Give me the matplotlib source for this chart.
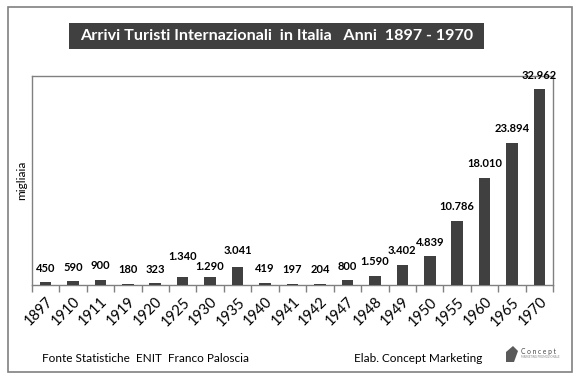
import matplotlib
matplotlib.use('Agg')
import matplotlib.pyplot as plt
from matplotlib.patches import Rectangle, Polygon

plt.rcParams['font.family'] = ['Lato', 'DejaVu Sans']

# dati (migliaia di arrivi)
anni = ['1897', '1910', '1911', '1919', '1920', '1925', '1930', '1935', '1940', '1941', '1942',
        '1947', '1948', '1949', '1950', '1955', '1960', '1965', '1970']
arrivi = [450, 590, 900, 180, 323, 1340, 1290, 3041, 419, 197, 204,
          800, 1590, 3402, 4839, 10786, 18010, 23894, 32962]
etichette = ['450', '590', '900', '180', '323', '1.340', '1.290', '3.041', '419', '197', '204',
             '800', '1.590', '3.402', '4.839', '10.786', '18.010', '23.894', '32.962']

# spostamento extra (pixel) di alcune etichette, come nell'originale
spost = {'1925': 7, '1930': -3, '1935': 2}

W, H = 583, 383
fig = plt.figure(figsize=(W / 100, H / 100), dpi=100)

def fx(px):
    return px / W

def fy(py):
    return 1 - py / H

# cornice esterna
fig.patches.append(Rectangle((fx(8), fy(372)), fx(572 - 8), (372 - 7) / H, transform=fig.transFigure,
                             fill=False, edgecolor='#808080', linewidth=1.2))

# titolo su fondo scuro
fig.patches.append(Rectangle((fx(69), fy(49)), fx(484 - 69), (49 - 23) / H, transform=fig.transFigure,
                             facecolor='#404040', edgecolor='none'))
fig.text(fx(276.5), fy(36.5), 'Arrivi Turisti Internazionali  in Italia   Anni  1897 - 1970',
         color='white', fontsize=11.6, fontweight='bold', ha='center', va='center')

ax = fig.add_axes([fx(31.7), fy(285), fx(553.3 - 31.7), (285 - 76) / H])
x = list(range(len(anni)))
ax.bar(x, arrivi, width=0.42, color='#404040', zorder=3)
ax.set_xlim(-0.5, len(anni) - 0.5)
ax.set_ylim(0, 35150)

for i, (v, lab) in enumerate(zip(arrivi, etichette)):
    ax.annotate(lab, (i, v), xytext=(0, 14 + spost.get(anni[i], 0)), textcoords='offset pixels',
                ha='center', va='center', fontsize=8, fontweight='bold', color='black')

for s in ax.spines.values():
    s.set_color('#808080')
    s.set_linewidth(1.0)

ax.set_yticks([])
ax.set_xticks(x)
ax.set_xticklabels(anni, rotation=45, ha='right', va='top', rotation_mode='anchor', fontsize=10.5)
ax.tick_params(axis='x', which='major', length=0, pad=7)
ax.set_xticks([i - 0.5 for i in range(len(anni) + 1)], minor=True)
ax.tick_params(axis='x', which='minor', length=5, color='#808080', width=1.0)

fig.text(fx(21.7), fy(180), 'migliaia', rotation=90, ha='center', va='center', fontsize=8.5)

# fonti
fig.text(fx(42), fy(358), 'Fonte Statistiche  ENIT  Franco Paloscia', ha='left', va='center', fontsize=8.5)
fig.text(fx(354), fy(358), 'Elab. Concept Marketing', ha='left', va='center', fontsize=8.5)

# piccolo logo
fig.patches.append(Polygon([(fx(506), fy(352)), (fx(513), fy(346)), (fx(518), fy(351)), (fx(514), fy(362)),
                            (fx(506), fy(362))], closed=True, transform=fig.transFigure,
                           facecolor='#5a5a5a', edgecolor='none'))
fig.text(fx(521), fy(351.5), 'C o n c e p t', ha='left', va='center', fontsize=4.8, color='#444444')
fig.text(fx(521), fy(357), 'MARKETING PROMOZIONALE', ha='left', va='center', fontsize=2, color='#888888')

fig.savefig('out.png', dpi=100, facecolor='white')
